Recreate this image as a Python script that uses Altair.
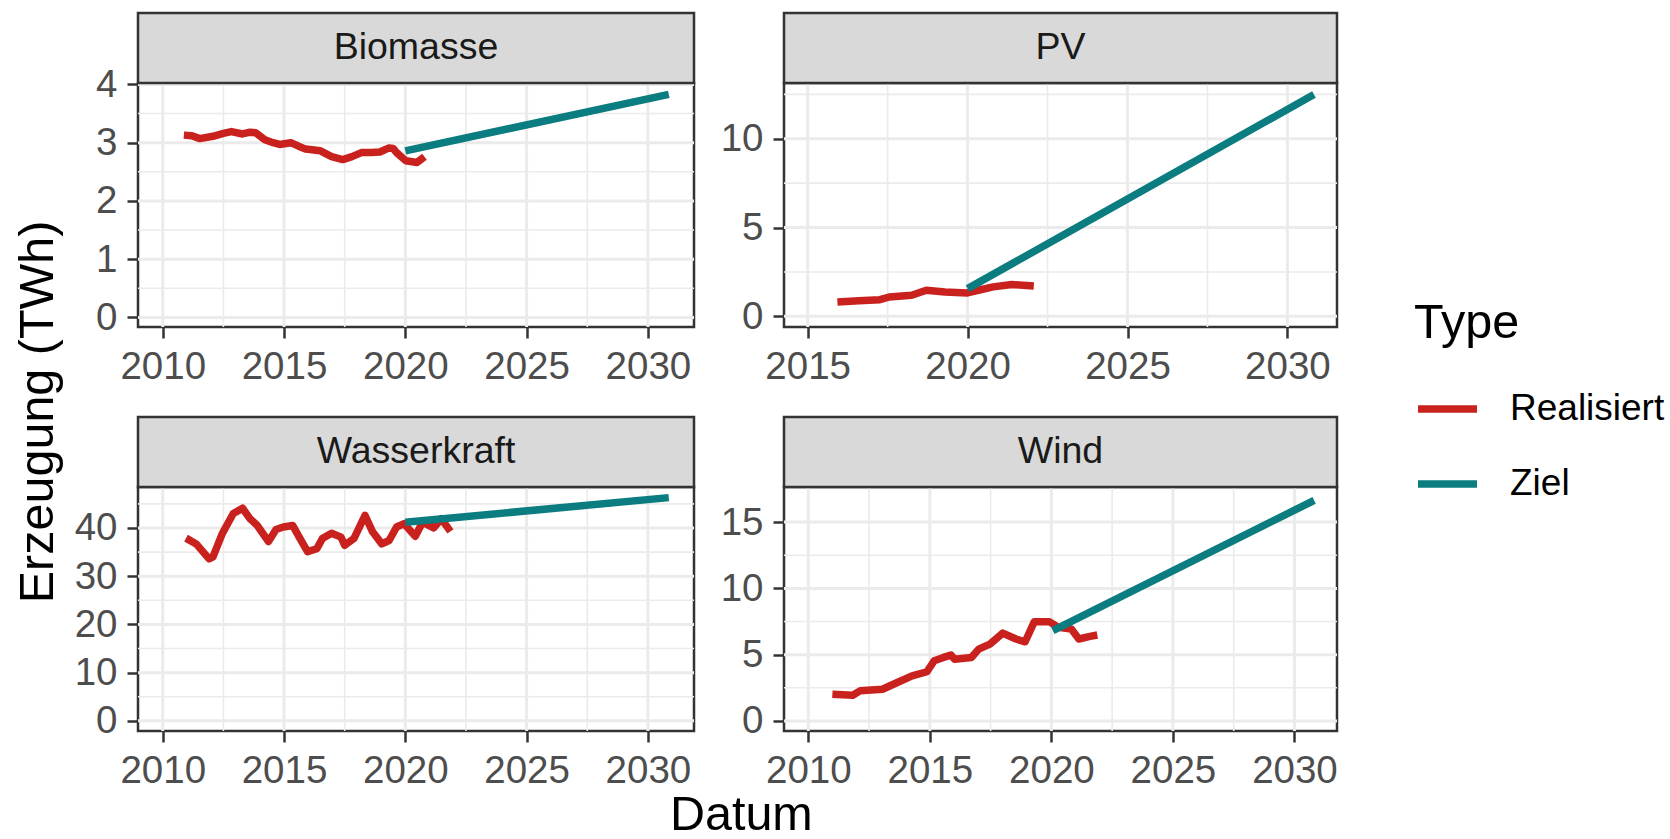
import altair as alt
import pandas as pd

FONT = "Liberation Sans"
BORDER = "#333333"
GRID = "#EBEBEB"
STRIP_FILL = "#D9D9D9"
STRIP_H = 70

TYPES = ["Realisiert", "Ziel"]
TYPE_COLORS = ["#C9211E", "#0B7C7F"]

# ---- Biomasse (TWh, rolling annual generation) ----
bio_real_year = [2010.87, 2011.20, 2011.53, 2012.07, 2012.50, 2012.83, 2013.29, 2013.60, 2013.83,
                 2014.21, 2014.55, 2014.82, 2015.28, 2015.60, 2015.89, 2016.50, 2016.96, 2017.42,
                 2017.80, 2018.19, 2018.60, 2018.95, 2019.33, 2019.50, 2019.64, 2020.02, 2020.48,
                 2020.79]
bio_real_twh = [3.13, 3.12, 3.07, 3.11, 3.16, 3.19, 3.15, 3.18, 3.17,
                3.05, 3.00, 2.97, 3.00, 2.94, 2.89, 2.86, 2.76, 2.71,
                2.76, 2.83, 2.83, 2.84, 2.91, 2.90, 2.83, 2.69, 2.66,
                2.76]
bio_ziel_year = [2020.00, 2030.86]
bio_ziel_twh = [2.86, 3.83]

# ---- PV ----
pv_real_year = [2015.93, 2016.60, 2017.26, 2017.55, 2018.25, 2018.71, 2019.29, 2019.99,
                2020.33, 2020.80, 2021.38, 2022.07]
pv_real_twh = [0.81, 0.88, 0.94, 1.09, 1.19, 1.47, 1.37, 1.32,
               1.47, 1.66, 1.79, 1.71]
pv_ziel_year = [2020.00, 2030.83]
pv_ziel_twh = [1.56, 12.49]

# ---- Wasserkraft ----
wk_real_year = [2010.96, 2011.38, 2011.91, 2012.07, 2012.45, 2012.91, 2013.29, 2013.60, 2013.90,
                2014.36, 2014.67, 2014.97, 2015.36, 2015.66, 2015.97, 2016.35, 2016.58, 2016.96,
                2017.35, 2017.50, 2017.88, 2018.34, 2018.65, 2019.03, 2019.33, 2019.64, 2019.95,
                2020.41, 2020.71, 2021.17, 2021.48, 2021.86]
wk_real_twh = [37.9, 36.7, 33.6, 34.0, 38.8, 43.0, 44.1, 41.9, 40.5,
               37.2, 39.7, 40.2, 40.5, 37.8, 35.1, 35.7, 37.8, 38.9,
               38.1, 36.4, 37.8, 42.6, 39.2, 36.7, 37.4, 40.2, 40.9,
               38.3, 41.2, 40.0, 41.9, 39.3]
wk_ziel_year = [2020.00, 2030.86]
wk_ziel_twh = [41.2, 46.3]

# ---- Wind ----
wind_real_year = [2010.99, 2011.40, 2011.83, 2012.13, 2013.05, 2013.66, 2014.27, 2014.88, 2015.18,
                  2015.56, 2015.87, 2016.02, 2016.71, 2017.01, 2017.47, 2018.00, 2018.54, 2018.92,
                  2019.30, 2019.91, 2020.29, 2020.82, 2021.13, 2021.59, 2021.89]
wind_real_twh = [2.02, 1.98, 1.94, 2.27, 2.39, 2.90, 3.40, 3.71, 4.54,
                 4.79, 4.97, 4.66, 4.79, 5.42, 5.80, 6.63, 6.18, 5.97,
                 7.49, 7.49, 7.06, 6.93, 6.18, 6.38, 6.48]
wind_ziel_year = [2020.06, 2030.81]
wind_ziel_twh = [6.81, 16.64]

AXIS = dict(
    grid=False, domain=False, labelFont=FONT, labelFontSize=38.5, labelColor="#4D4D4D",
    tickColor=BORDER, tickWidth=2.5, tickSize=11, labelPadding=10,
    labelFlush=False, labelOverlap=False,
)

LEGEND = alt.Legend(
    title="Type", orient="none", legendX=1276, legendY=217,
    titleFont=FONT, titleFontSize=48.5, titleFontWeight="normal", titleColor="black",
    labelFont=FONT, labelFontSize=37, labelColor="black",
    symbolType="stroke", symbolStrokeWidth=7.5, symbolSize=3481,
    labelOffset=29, rowPadding=23, titlePadding=27,
)


def panel(name, real_year, real_twh, ziel_year, ziel_twh,
          xdom, ydom, xmaj, xmin, ymaj, ymin, width, height):
    df = pd.DataFrame({
        "Datum": list(real_year) + list(ziel_year),
        "Erzeugung": list(real_twh) + list(ziel_twh),
        "Type": ["Realisiert"] * len(real_year) + ["Ziel"] * len(ziel_year),
    })
    xs = alt.Scale(domain=xdom, nice=False, zero=False)
    ys = alt.Scale(domain=ydom, nice=False, zero=False)
    x_axis = alt.Axis(values=xmaj, format="d", **AXIS)
    y_axis = alt.Axis(values=ymaj, **AXIS)

    def vgrid(vals, w):
        return alt.Chart(pd.DataFrame({"v": vals})).mark_rule(
            color=GRID, strokeWidth=w
        ).encode(x=alt.X("v:Q", scale=xs, title=None, axis=x_axis))

    def hgrid(vals, w):
        return alt.Chart(pd.DataFrame({"v": vals})).mark_rule(
            color=GRID, strokeWidth=w
        ).encode(y=alt.Y("v:Q", scale=ys, title=None, axis=y_axis))

    lines = alt.Chart(df).mark_line(strokeWidth=7.5, strokeJoin="round").encode(
        x=alt.X("Datum:Q", scale=xs, title=None, axis=x_axis),
        y=alt.Y("Erzeugung:Q", scale=ys, title=None, axis=y_axis),
        color=alt.Color("Type:N", scale=alt.Scale(domain=TYPES, range=TYPE_COLORS), legend=LEGEND),
    )

    label = pd.DataFrame({"facet": [name]})
    strip_bg = alt.Chart(label).mark_rect(
        fill=STRIP_FILL, stroke=BORDER, strokeWidth=2.5
    ).encode(x=alt.value(0), x2=alt.value(width), y=alt.value(-STRIP_H), y2=alt.value(0))
    strip_txt = alt.Chart(label).mark_text(
        font=FONT, fontSize=37.5, color="#1A1A1A", baseline="middle", align="center"
    ).encode(text="facet:N", x=alt.value(width / 2), y=alt.value(-STRIP_H / 2))

    return alt.layer(
        vgrid(xmin, 1.6), hgrid(ymin, 1.6), vgrid(xmaj, 3.0), hgrid(ymaj, 3.0),
        lines, strip_bg, strip_txt,
    ).properties(width=width, height=height)


W_L, W_R, H = 556, 553, 244

p_bio = panel("Biomasse", bio_real_year, bio_real_twh, bio_ziel_year, bio_ziel_twh,
              [2008.98, 2031.9], [-0.165, 4.025],
              [2010, 2015, 2020, 2025, 2030], [2012.5, 2017.5, 2022.5, 2027.5],
              [0, 1, 2, 3, 4], [0.5, 1.5, 2.5, 3.5], W_L, H)
p_pv = panel("PV", pv_real_year, pv_real_twh, pv_ziel_year, pv_ziel_twh,
             [2014.26, 2031.55], [-0.60, 13.14],
             [2015, 2020, 2025, 2030], [2017.5, 2022.5, 2027.5],
             [0, 5, 10], [2.5, 7.5, 12.5], W_R, H)
p_wk = panel("Wasserkraft", wk_real_year, wk_real_twh, wk_ziel_year, wk_ziel_twh,
             [2008.98, 2031.9], [-2.1, 48.5],
             [2010, 2015, 2020, 2025, 2030], [2012.5, 2017.5, 2022.5, 2027.5],
             [0, 10, 20, 30, 40], [5, 15, 25, 35, 45], W_L, H)
p_wind = panel("Wind", wind_real_year, wind_real_twh, wind_ziel_year, wind_ziel_twh,
               [2009.0, 2031.75], [-0.76, 17.65],
               [2010, 2015, 2020, 2025, 2030], [2012.5, 2017.5, 2022.5, 2027.5],
               [0, 5, 10, 15], [2.5, 7.5, 12.5], W_R, H)

grid = alt.concat(
    p_bio, p_pv, p_wk, p_wind, columns=2, bounds="flush",
    spacing={"row": 160, "column": 90},
).properties(
    title=alt.TitleParams("Datum", orient="bottom", anchor="middle", font=FONT,
                          fontSize=48.5, fontWeight="normal", color="black",
                          offset=1, dx=35)
).resolve_scale(color="shared").resolve_legend(color="shared")

chart = alt.vconcat(grid).properties(
    title=alt.TitleParams("Erzeugung (TWh)", orient="left", anchor="middle", font=FONT,
                          fontSize=48.5, fontWeight="normal", color="black",
                          offset=9.5, dx=13),
    padding={"left": 13, "top": 10, "right": 5, "bottom": 0},
    background="white",
).resolve_scale(color="shared").resolve_legend(color="shared").configure_view(
    stroke=BORDER, strokeWidth=2.5
)

chart.save("out.html", embed_options={"renderer": "svg", "actions": False})
